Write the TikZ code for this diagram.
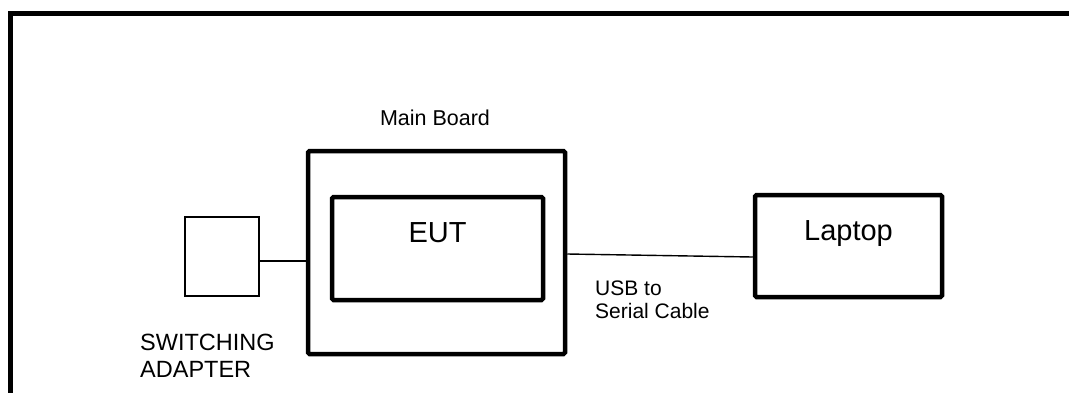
\documentclass[tikz,border=0pt]{standalone}
\usepackage{fontspec}
\setmainfont{Liberation Sans}
\usetikzlibrary{positioning,calc}

\begin{document}
\begin{tikzpicture}[
  x=1pt, y=-1pt,
  box/.style={rectangle, draw=black, line width=4.5pt, rounded corners=1.5pt,
    inner sep=0pt},
  smallbox/.style={rectangle, draw=black, line width=1.6pt, inner sep=0pt},
  cable/.style={draw=black, line width=1.4pt},
  boxtext/.style={inner sep=0pt, font=\fontsize{29}{32}\selectfont},
  note/.style={inner sep=0pt, align=left, anchor=base west}
]
  \useasboundingbox (0,0) rectangle (1069,392);
  \clip (0,0) rectangle (1069,392);
  % outer frame, cut off at the right and bottom
  \draw[line width=4.5pt] (10.5,430) |- (1100,13.5);

  % boxes
  \node[box, minimum width=257pt, minimum height=203pt] (mainboard) at (436.5,252.5) {};
  \node[box, minimum width=211pt, minimum height=103pt,
    label={[boxtext, yshift=16.3pt]center:EUT}] (eut) at (437.5,248.5) {};
  \node[box, minimum width=187pt, minimum height=102pt,
    label={[boxtext, yshift=12pt]center:Laptop}] (laptop) at (848.5,246) {};
  \node[smallbox, minimum width=74pt, minimum height=79pt] (adapter) at (222,256.5) {};

  % labels
  \node[note, anchor=base, font=\fontsize{21.5}{24}\selectfont] (mainlabel) at (435,125.7) {Main Board};
  \node[note, font=\fontsize{21}{23}\selectfont] (cablelabel) at (595,318) {USB to\\Serial Cable};
  \node[note, font=\fontsize{23.5}{27}\selectfont] (adapterlabel) at (140,377) {SWITCHING\\ADAPTER};

  % connections
  \draw[cable] ([yshift=-4.5pt]adapter.east) -- ([yshift=-4.5pt]adapter.east -| mainboard.west);
  \draw[cable] ([yshift=-1.5pt]mainboard.east) -- ([yshift=-11pt]laptop.west);
\end{tikzpicture}
\end{document}
